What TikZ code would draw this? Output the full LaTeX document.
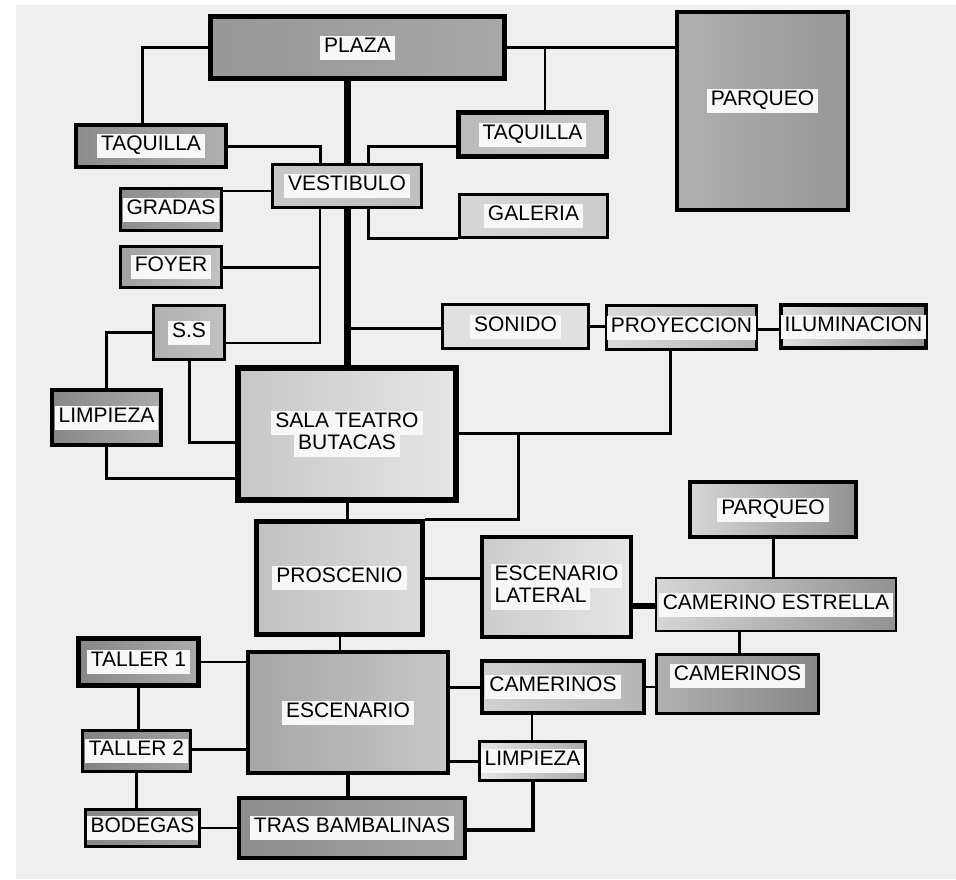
\documentclass[tikz,border=0pt]{standalone}
\usepackage{fontspec}
\setmainfont{Liberation Sans}
\usepackage{xcolor}
\usepackage{tikz}
\usetikzlibrary{calc}
\definecolor{paper}{RGB}{239,239,239}
\definecolor{lblbg}{RGB}{247,247,247}
\newcommand{\lbx}[1]{{\setlength{\fboxsep}{0pt}\colorbox{lblbg}{\hspace{4pt}\strut #1\hspace{4pt}}}}

\begin{document}
\begin{tikzpicture}[x=1pt, y=-1pt,
  rm/.style={draw, inner sep=0pt, align=center,
             font=\fontsize{21}{24}\selectfont},
  g/.style 2 args={left color=black!#1, right color=black!#2},
  ln/.style={line width=3pt},
  th/.style={line width=2pt},
  tk/.style={line width=7pt}]
\useasboundingbox (0,0) rectangle (956,879);
\fill[paper] (16,5) rectangle (956,879);
\node[rm, g={41}{34}, line width=5pt, minimum width=294pt, minimum height=62pt] (plaza) at (357.5,47.5) {\lbx{PLAZA}};
\node[rm, g={45}{31}, line width=4pt, minimum width=150pt, minimum height=42pt] (taqL) at (151,146) {\lbx{TAQUILLA}};
\node[rm, g={22}{25}, line width=3pt, minimum width=149pt, minimum height=43pt] (vest) at (347,186) {\lbx{VESTIBULO}};
\node[rm, g={45}{33}, line width=3pt, minimum width=101pt, minimum height=42pt] (gradas) at (171,209.5) {\lbx{GRADAS}};
\node[rm, g={37}{24}, line width=3pt, minimum width=101pt, minimum height=41pt] (foyer) at (171,267) {\lbx{FOYER}};
\node[rm, g={27}{22}, line width=5pt, minimum width=148pt, minimum height=44pt] (taqR) at (532.5,134.5) {\lbx{TAQUILLA}};
\node[rm, g={16}{20}, line width=3pt, minimum width=148pt, minimum height=43pt] (galeria) at (533.5,216) {\lbx{GALERIA}};
\node[rm, g={31}{41}, line width=4pt, minimum width=171pt, minimum height=198pt] (parqA) at (762.5,111) {\lbx{PARQUEO}\\[4pt]};
\node[rm, g={31}{24}, line width=3pt, minimum width=71pt, minimum height=54pt] (ss) at (189,332.5) {\lbx{S.S}};
\node[rm, g={47}{33}, line width=4pt, minimum width=109pt, minimum height=55pt] (limpA) at (106.5,417.5) {\lbx{LIMPIEZA}};
\node[rm, g={22}{10}, line width=6pt, minimum width=218pt, minimum height=132pt] (sala) at (347,434) {\lbx{SALA TEATRO}\\[-2pt]\lbx{BUTACAS}};
\node[rm, g={12}{12}, line width=3pt, minimum width=146pt, minimum height=44pt] (sonido) at (515.5,326.5) {\lbx{SONIDO}};
\node[rm, g={14}{29}, line width=3pt, minimum width=146pt, minimum height=44pt] (proy) at (681.5,327.5) {\lbx{PROYECCION}};
\node[rm, g={12}{43}, line width=4pt, minimum width=145pt, minimum height=43pt] (ilum) at (853.5,326.5) {\lbx{ILUMINACION}};
\node[rm, g={24}{14}, line width=5pt, minimum width=166pt, minimum height=113pt] (prosc) at (339.5,578) {\lbx{PROSCENIO}};
\node[rm, g={35}{22}, line width=4pt, minimum width=200pt, minimum height=121pt] (escen) at (348,712.5) {\lbx{ESCENARIO}};
\node[rm, g={47}{33}, line width=5pt, minimum width=120pt, minimum height=47pt] (taller1) at (138.5,662) {\lbx{TALLER 1}};
\node[rm, g={49}{37}, line width=3pt, minimum width=108pt, minimum height=41pt] (taller2) at (136.5,751) {\lbx{TALLER 2}};
\node[rm, g={47}{37}, line width=3pt, minimum width=114pt, minimum height=37pt] (bodegas) at (142.5,828) {\lbx{BODEGAS}};
\node[rm, g={45}{35}, line width=4pt, minimum width=226pt, minimum height=60pt] (tras) at (352,828) {\lbx{TRAS BAMBALINAS}};
\node[rm, g={20}{10}, line width=4pt, minimum width=149pt, minimum height=100pt, align=left] (esclat) at (556.5,587) {\lbx{ESCENARIO}\\[-2pt]\lbx{LATERAL}};
\node[rm, g={16}{43}, line width=2pt, minimum width=240pt, minimum height=53pt] (camest) at (776,604.5) {\lbx{CAMERINO ESTRELLA}};
\node[rm, g={16}{43}, line width=4pt, minimum width=166pt, minimum height=55pt] (parqB) at (773,509.5) {\lbx{PARQUEO}};
\node[rm, g={31}{47}, line width=3pt, minimum width=162pt, minimum height=59pt] (camR) at (737.5,684) {\lbx{CAMERINOS}\\[0pt]};
\node[rm, g={18}{29}, line width=4pt, minimum width=162pt, minimum height=52pt] (camL) at (563,687) {\lbx{CAMERINOS}\hspace{20pt}};
\node[rm, g={10}{33}, line width=3pt, minimum width=106pt, minimum height=39pt] (limpB) at (532.5,761) {\lbx{LIMPIEZA}};
\draw[ln] (plaza.west) -| ([xshift=-9pt]taqL.north);
\draw[tk] (vest.north |- plaza.south) -- (vest.north);
\draw[ln] (plaza.east) -- (plaza.east -| parqA.west);
\draw[th] ([xshift=12.5pt]taqR.north) |- (plaza.east);
\draw[ln] (taqL.east) -| ([xshift=-27pt]vest.north);
\draw[ln] ([xshift=21pt]vest.north) |- ([yshift=-11.5pt]taqR.west);
\draw[th] ([yshift=-5pt]vest.west) -- ([yshift=-5pt]vest.west -| gradas.east);
\draw[ln] ([xshift=21pt]vest.south) |- ([yshift=-22pt]galeria.west);
\coordinate (vl) at ([xshift=-27pt]vest.south);
\draw[th] (vl) |- ([yshift=-10.5pt]ss.east);
\draw[ln] (foyer.east) -- (foyer.east -| vl);
\draw[tk] (vest.south) -- (sala.north);
\draw[ln] ([yshift=-1.5pt]sonido.west) -- ([yshift=-1.5pt]sonido.west -| sala.north);
\draw[ln] (sonido.east) -- (sonido.east -| proy.west);
\draw[ln] ([yshift=-1.5pt]proy.east) -- ([yshift=-1.5pt]proy.east -| ilum.west);
\draw[ln] ([xshift=-11.5pt]proy.south) |- ([yshift=1pt]sala.east);
\draw[ln] ([xshift=59pt, yshift=1pt]sala.east) |- (prosc.north east);
\draw[ln] (ss.west) -| (limpA.north);
\draw[ln] (ss.south) |- ([yshift=-8pt]sala.west);
\draw[ln] (limpA.south) |- ([yshift=-44pt]sala.west);
\draw[ln] (sala.south) -- (sala.south |- prosc.north);
\draw[th] (prosc.south) -- (prosc.south |- escen.north);
\draw[ln] (prosc.east) -- (prosc.east -| esclat.west);
\draw[line width=6pt] ([yshift=-19pt]esclat.east) -- ([yshift=-19pt]esclat.east -| camest.west);
\draw[ln] (parqB.south) -- (parqB.south |- camest.north);
\draw[ln] ([xshift=-37pt]camest.south) -- ([xshift=-37pt]camest.south |- camR.north);
\draw[ln] (camL.west -| escen.east) -- (camL.west);
\draw[th] (camL.east) -- (camL.east -| camR.west);
\draw[th] ([xshift=-31pt]camL.south) -- ([xshift=-31pt]camL.south |- limpB.north);
\draw[ln] (limpB.west -| escen.east) -- (limpB.west);
\draw[line width=4pt] (limpB.south) |- ([yshift=-2pt]tras.east);
\draw[th] (taller1.east) -- (taller1.east -| escen.west);
\draw[ln] (taller1.south) -- (taller1.south |- taller2.north);
\draw[ln] ([yshift=2pt]taller2.east) -- ([yshift=2pt]taller2.east -| escen.west);
\draw[ln] (taller2.south) -- (taller2.south |- bodegas.north);
\draw[th] (bodegas.east) -- (bodegas.east -| tras.west);
\draw[line width=4pt] (escen.south) -- (escen.south |- tras.north);
\end{tikzpicture}
\end{document}
